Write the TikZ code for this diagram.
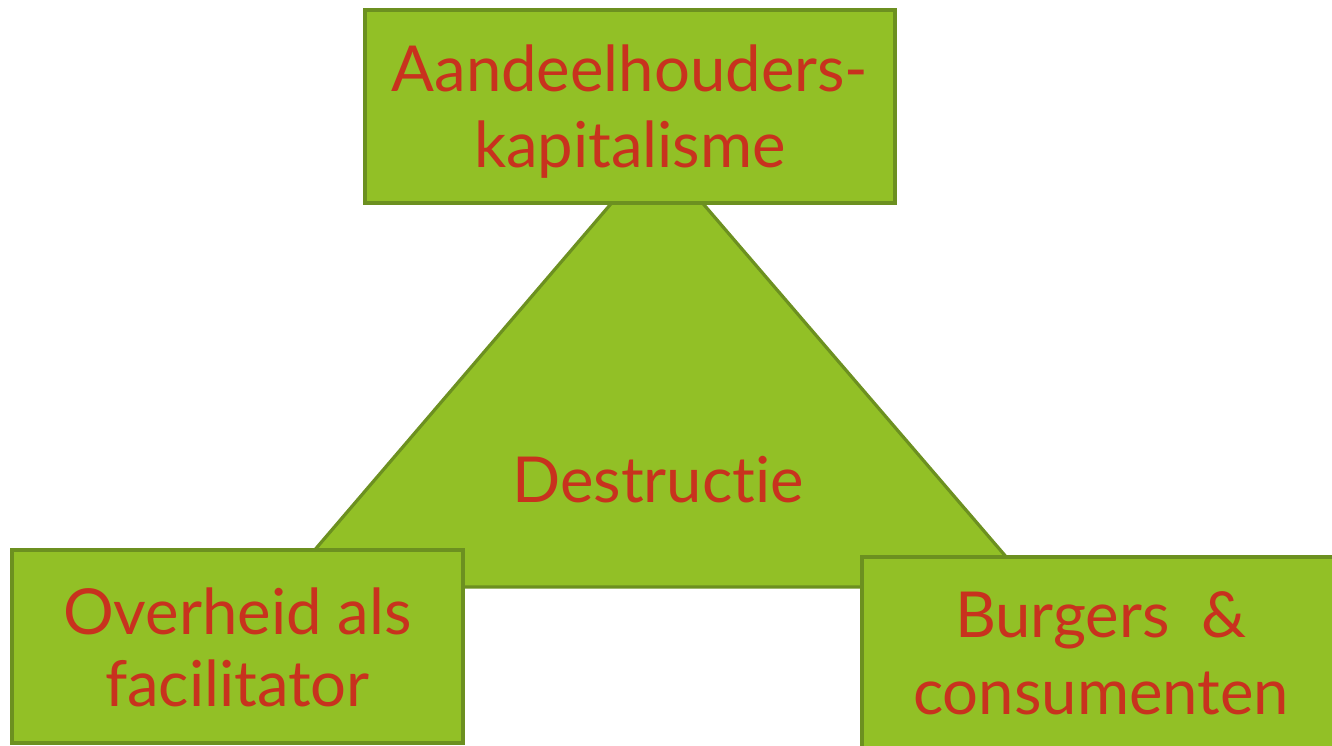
\documentclass[tikz,border=0pt]{standalone}
\usepackage{fontspec}
\setmainfont{Lato}[Ligatures={NoCommon,NoRare}]
\definecolor{boxgreen}{RGB}{146,192,38}
\definecolor{edgegreen}{RGB}{108,144,32}
\definecolor{txtred}{RGB}{200,50,30}
\begin{document}
\begin{tikzpicture}[x=0.5pt,y=-0.5pt,
  box/.style={draw=edgegreen,fill=boxgreen,line width=1.6pt,inner sep=0pt},
  lbl/.style={text=txtred,font=\fontsize{31.7}{38}\selectfont,inner sep=0pt,align=center}]
\useasboundingbox (0,0) rectangle (1332,745);
\clip (0,0) rectangle (1332,745);
% triangle
\coordinate (tl) at (283,587);
\coordinate (tt) at (657,150);
\coordinate (tr) at (1032,587);
\draw[box,line join=miter] (tl) -- (tt) -- (tr) -- cycle;
\node[lbl,anchor=base] (destr) at (658,502) {Destructie};
% boxes
\path[box] (365,10) rectangle (895,203);
\node[inner sep=0pt,minimum width=265pt,minimum height=96.5pt] (top) at (630,106.5) {};
\path[box] (12,550) rectangle (463,743);
\node[inner sep=0pt,minimum width=225.5pt,minimum height=96.5pt] (left) at (237.5,646.5) {};
\path[box] (862,557) rectangle (1340,750);
\node[inner sep=0pt,minimum width=239pt,minimum height=96.5pt] (right) at (1101,653.5) {};
% texts
\node[lbl,anchor=base] (t1) at ([yshift=-41pt]top.north) {Aandeelhouders-};
\node[lbl,anchor=base] (t2) at ([yshift=-79pt]top.north) {kapitalisme};
\node[lbl,anchor=base] (l1) at ([yshift=-42.5pt]left.north) {Overheid als};
\node[lbl,anchor=base] (l2) at ([yshift=-78.5pt]left.north) {facilitator};
\node[lbl,anchor=base] (r1) at ([yshift=-40.5pt]right.north) {Burgers\ \ \&};
\node[lbl,anchor=base] (r2) at ([yshift=-79pt]right.north) {consumenten};
\end{tikzpicture}
\end{document}
